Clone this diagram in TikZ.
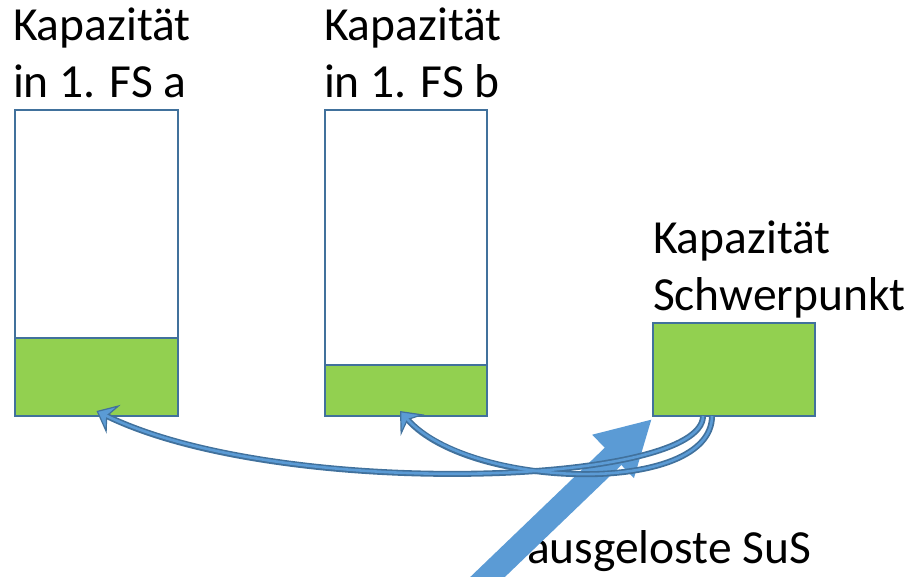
\documentclass[tikz,border=0pt]{standalone}
\usepackage{fontspec}
\setmainfont{Carlito}
\usetikzlibrary{arrows.meta}
\definecolor{edge}{RGB}{65,113,156}
\definecolor{grn}{RGB}{146,208,80}
\definecolor{blu}{RGB}{91,155,213}
\begin{document}
\begin{tikzpicture}[x=1pt,y=-1pt,
  lbl/.style={inner sep=0pt, outer sep=0pt, align=left, font=\fontsize{47.5}{57}\selectfont},
  capbox/.style={draw=edge, line width=1.8pt, fill=white, inner sep=0pt, outer sep=0pt},
  fillbox/.style={draw=edge, line width=1.8pt, fill=grn, inner sep=0pt, outer sep=0pt},
  bigarrow/.style={blu, line width=24pt, -{Triangle[length=54pt,width=56pt]}},
  curvedark/.style={edge, line width=6pt, -{Stealth[length=19pt,width=32pt,inset=7pt,line width=1.2pt,fill=blu]}},
  curvelight/.style={blu, line width=2.6pt, shorten >=10pt}
]
\useasboundingbox (0,0) rectangle (915,576);
% labels
\node[lbl, anchor=base west] (ta) at (13,97) {Kapazität\\in 1. FS a};
\node[lbl, anchor=base west] (tb) at (324,97) {Kapazität\\in 1. FS b};
\node[lbl, anchor=base west] (ts) at (653,310) {Kapazität\\Schwerpunkt};
\node[lbl, anchor=base west] (tsus) at (527,563) {ausgeloste SuS};
% boxes
\node[capbox, minimum width=163pt, minimum height=306pt, anchor=north west] (a) at (15,110) {};
\node[fillbox, minimum width=163pt, minimum height=78pt, anchor=south west] (ag) at (a.south west) {};
\node[capbox, minimum width=162pt, minimum height=306pt, anchor=north west] (b) at (325,110) {};
\node[fillbox, minimum width=162pt, minimum height=51pt, anchor=south west] (bg) at (b.south west) {};
\node[fillbox, minimum width=162pt, minimum height=93pt, anchor=north west] (sp) at (653,323) {};
% big arrow
\coordinate (src) at (474,590);
\draw[bigarrow] (src) -- ([xshift=-1pt,yshift=-3pt]sp.south west);
% curved arrows
\coordinate (s1) at ([xshift=50pt]sp.south west);
\coordinate (s2) at ([xshift=59pt]sp.south west);
\coordinate (e1) at ([xshift=0pt,yshift=5pt]ag.south);
\coordinate (e2) at ([xshift=-6pt,yshift=5pt]bg.south);
\draw[curvedark] (s1) .. controls +(0,70) and (280,500) .. (e1);
\draw[curvedark] (s2) .. controls +(0,80) and (470,490) .. (e2);
\draw[curvelight] (s1) .. controls +(0,70) and (280,500) .. (e1);
\draw[curvelight] (s2) .. controls +(0,80) and (470,490) .. (e2);
\end{tikzpicture}
\end{document}
